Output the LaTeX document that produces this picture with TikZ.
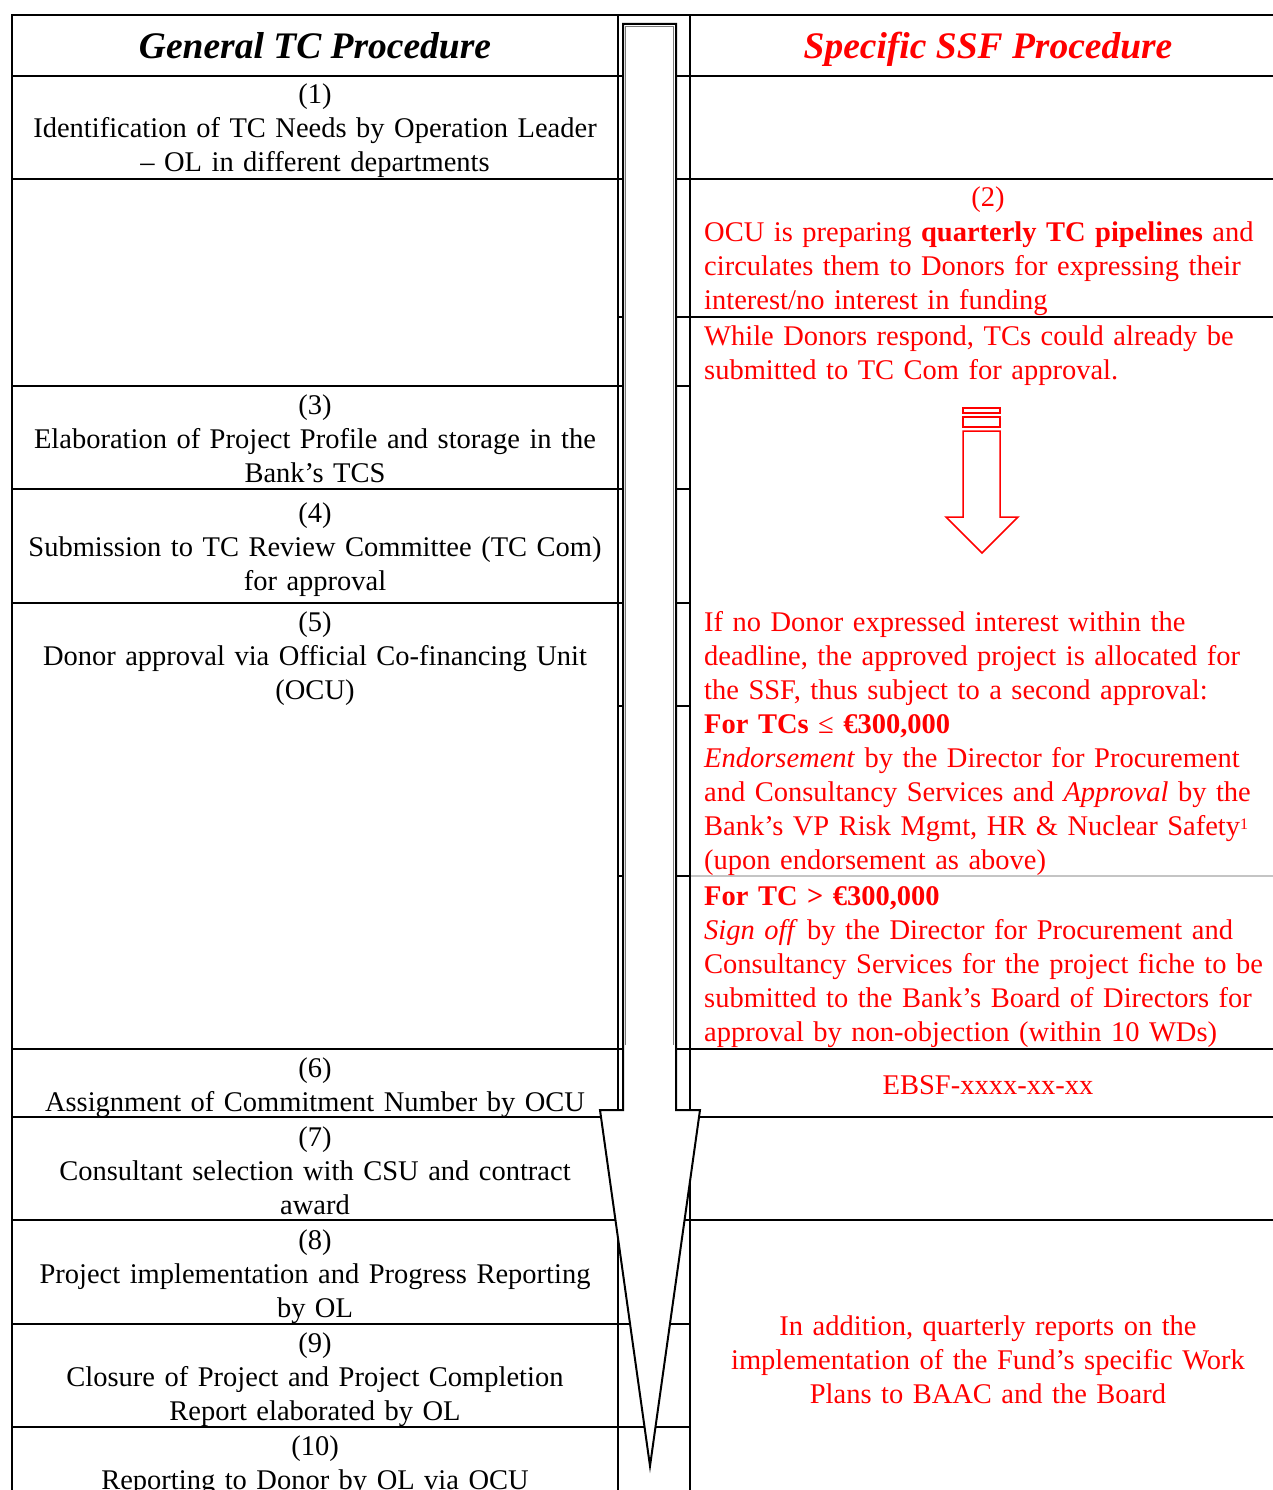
\documentclass[tikz,border=0pt]{standalone}
\usepackage{fontspec}
\setmainfont{Liberation Serif}
\usepackage{tikz}
\definecolor{SsfRed}{HTML}{FF0000}
\definecolor{RuleGray}{HTML}{C4C4C4}
\definecolor{ShaftGray}{HTML}{7A7A7A}
\newcommand{\cellfont}{\fontsize{28.5}{34}\selectfont}
\newcommand{\headfont}{\fontsize{37.5}{40}\selectfont\bfseries\itshape}
\tikzset{
  gencell/.style={anchor=base, inner sep=0pt, text width=606pt, align=center, font=\cellfont},
  ssfcell/.style={anchor=base west, inner sep=0pt, text width=580pt, align=left,
                  text=SsfRed, font=\cellfont},
  ssfmid/.style={gencell, text=SsfRed},
  gridline/.style={line width=2pt, line cap=rect},
  redarrow/.style={draw=SsfRed, line width=1.5pt, line join=miter},
}

\begin{document}
\begin{tikzpicture}[x=1pt, y=-1pt]
\useasboundingbox (0,0) rectangle (1273,1490);

% table grid
\foreach \yy in {15,76,179,1049,1117,1220} \draw[gridline] (12,\yy) -- (1273,\yy);
\foreach \yy in {386,489,603,1324,1427} \draw[gridline] (12,\yy) -- (690,\yy);
\draw[gridline] (618,317) -- (1273,317);
\draw[gridline] (618,706) -- (690,706);
\draw[gridline] (618,876) -- (690,876);
\draw[RuleGray, line width=1.5pt] (690,876) -- (1273,876);
\foreach \xx in {12,618,690} \draw[gridline] (\xx,15) -- (\xx,1490);

% big flow arrow
\draw[line width=2pt, fill=white, line join=miter]
  (623,24) -- (676,24) -- (676,1110) -- (700,1110) -- (650,1466) -- (600,1110) -- (623,1110) -- cycle;
\draw[ShaftGray, line width=1pt] (625.5,1045) -- (625.5,26.5) -- (673.5,26.5) -- (673.5,1045);

% headers
\node[font=\headfont, anchor=base] (genhead) at (315,59) {General TC Procedure};
\node[font=\headfont, text=SsfRed, anchor=base] (ssfhead) at (988,59) {Specific SSF Procedure};

% general procedure
\node[gencell] (step1) at (315,104) {(1)\\Identification of TC Needs by Operation Leader\\– OL in different departments};
\node[gencell] (step3) at (315,414) {(3)\\Elaboration of Project Profile and storage in the\\Bank’s TCS};
\node[gencell] (step4) at (315,522) {(4)\\Submission to TC Review Committee (TC Com)\\for approval};
\node[gencell] (step5) at (315,631) {(5)\\Donor approval via Official Co-financing Unit\\(OCU)};
\node[gencell] (step6) at (315,1077) {(6)\\Assignment of Commitment Number by OCU};
\node[gencell] (step7) at (315,1146) {(7)\\Consultant selection with CSU and contract\\award};
\node[gencell] (step8) at (315,1249) {(8)\\Project implementation and Progress Reporting\\by OL};
\node[gencell] (step9) at (315,1352) {(9)\\Closure of Project and Project Completion\\Report elaborated by OL};
\node[gencell] (step10) at (315,1455) {(10)\\Reporting to Donor by OL via OCU};

% specific SSF procedure
\node[ssfmid] (ssf2num) at (988,207) {(2)};
\node[ssfcell] (ssf2) at (704,241) {OCU is preparing \textbf{quarterly TC pipelines} and\\circulates them to Donors for expressing their\\interest/no interest in funding};
\node[ssfcell] (ssfwhile) at (704,345) {While Donors respond, TCs could already be\\submitted to TC Com for approval.};
\node[ssfcell] (ssfbelow) at (704,631) {If no Donor expressed interest within the\\deadline, the approved project is allocated for\\the SSF, thus subject to a second approval:\\\textbf{For TCs} ≤ \textbf{€300,000}\\\textit{Endorsement} by the Director for Procurement\\and Consultancy Services and \textit{Approval} by the\\Bank’s VP Risk Mgmt, HR \& Nuclear Safety\raisebox{6pt}{\fontsize{16}{16}\selectfont 1}\\(upon endorsement as above)};
\node[ssfcell] (ssfabove) at (704,905) {\textbf{For TC > €300,000}\\\textit{Sign off} by the Director for Procurement and\\Consultancy Services for the project fiche to be\\submitted to the Bank’s Board of Directors for\\approval by non-objection (within 10 WDs)};
\node[ssfmid] (ebsf) at (988,1094) {EBSF-xxxx-xx-xx};
\node[ssfmid] (ssfreport) at (988,1335) {In addition, quarterly reports on the\\implementation of the Fund’s specific Work\\Plans to BAAC and the Board};

% small red arrow
\draw[redarrow] (963,408) rectangle (1000,413);
\draw[redarrow] (963,417) rectangle (1000,427);
\draw[redarrow] (963,431) -- (1000,431) -- (1000,517) -- (1018,517) -- (982,553) -- (946,517) -- (963,517) -- cycle;
\end{tikzpicture}
\end{document}
